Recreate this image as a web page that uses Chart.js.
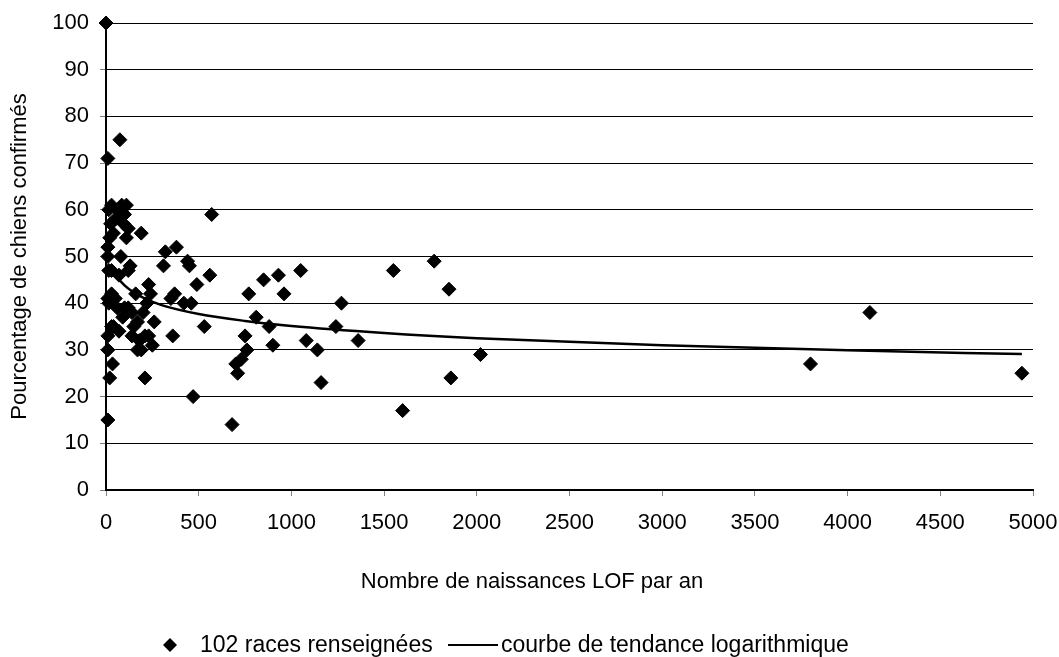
<!DOCTYPE html>
<html>
<head>
<meta charset="utf-8">
<script src="https://cdn.jsdelivr.net/npm/chart.js@4/dist/chart.umd.min.js"></script>
<style>
  html, body { margin: 0; padding: 0; background: #fff; }
  #wrap { width: 1059px; height: 657px; position: relative; }
</style>
</head>
<body>
<div id="wrap"><canvas id="lofChart"></canvas></div>
<script>
// Races : naissances LOF par an / pourcentage de chiens confirmés
const breedX = [0, 10, 75, 15, 30, 60, 85, 110, 100, 95, 120, 110, 20, 10, 10, 40, 15, 190, 80, 30,
  70, 120, 10, 30, 15, 60, 100, 40, 70, 30, 10, 120, 10, 20, 35, 10, 200, 170, 150, 180,
  190, 210, 230, 240, 220, 260, 250, 230, 210, 310, 320, 370, 380, 350, 360, 440, 450, 460, 420, 490,
  530, 560, 570, 470, 680, 700, 710, 730, 750, 760, 770, 810, 850, 880, 900, 930, 960, 1050, 1080, 1140,
  1160, 1240, 1270, 1360, 1550, 1600, 1770, 1850, 1860, 2020, 3800, 4120, 4940,
  50, 25, 130, 160, 140, 90, 50, 170, 140];
const breedY = [100, 71, 75, 60, 61, 60, 61, 61, 59, 57, 56, 54, 54, 52, 50, 55, 47, 55, 50, 47,
  46, 47, 41, 42, 40, 39, 39, 35, 34, 35, 33, 39, 30, 24, 27, 15, 38, 36, 35, 32,
  30, 33, 44, 42, 40, 36, 31, 33, 24, 48, 51, 42, 52, 41, 33, 49, 48, 40, 40, 44,
  35, 46, 59, 20, 14, 27, 25, 28, 33, 30, 42, 37, 45, 35, 31, 46, 42, 47, 32, 30,
  23, 35, 40, 32, 47, 17, 49, 43, 24, 29, 27, 38, 25,
  58, 57, 48, 42, 38, 37, 41, 30, 33];

// Courbe de tendance
const trendX = [40, 60, 100, 150, 200, 300, 500, 750, 1000, 1500, 2000, 3000, 4000, 4940];
const trendY = [47.3, 45.7, 43.8, 42.3, 41.2, 39.6, 37.7, 36.2, 35.1, 33.6, 32.5, 31.0, 29.9, 29.1];

const seriesLabel = '102 races renseignées';
const trendLabel = 'courbe de tendance logarithmique';
const xTitle = 'Nombre de naissances LOF par an';
const yTitle = 'Pourcentage de chiens confirmés';

const FONT = 'Liberation Sans, Arial, sans-serif';

// Titre de l'axe X et légende, dessinés à la main comme sur l'original
const extraText = {
  id: 'extraText',
  afterDraw(chart) {
    const ctx = chart.ctx;
    ctx.save();
    ctx.fillStyle = '#000';
    ctx.strokeStyle = '#000';
    ctx.font = '22px ' + FONT;
    ctx.textBaseline = 'alphabetic';
    ctx.textAlign = 'center';
    ctx.fillText(xTitle, 532, 588);

    // légende
    const ly = 645;
    ctx.textAlign = 'left';
    ctx.font = '23px ' + FONT;
    ctx.beginPath();
    ctx.moveTo(170, ly - 7);
    ctx.lineTo(177, ly);
    ctx.lineTo(170, ly + 7);
    ctx.lineTo(163, ly);
    ctx.closePath();
    ctx.fill();
    ctx.fillText(seriesLabel, 200, 652);
    ctx.lineWidth = 2;
    ctx.beginPath();
    ctx.moveTo(448, ly);
    ctx.lineTo(498, ly);
    ctx.stroke();
    ctx.fillText(trendLabel, 501, 652);
    ctx.restore();
  }
};

const ctx = document.getElementById('lofChart').getContext('2d');
const lofChart = new Chart(ctx, {
  type: 'scatter',
  data: {
    datasets: [{
      label: seriesLabel,
      data: breedX.map((x, i) => ({ x: x, y: breedY[i] })),
      pointStyle: 'rectRot',
      pointRadius: 7,
      pointBorderWidth: 1,
      backgroundColor: '#000',
      borderColor: '#000',
      clip: false,
      order: 2
    }, {
      label: trendLabel,
      data: trendX.map((x, i) => ({ x: x, y: trendY[i] })),
      showLine: true,
      pointRadius: 0,
      borderColor: '#000',
      borderWidth: 2.5,
      cubicInterpolationMode: 'monotone',
      order: 1
    }]
  },
  options: {
    responsive: true,
    maintainAspectRatio: false,
    animation: false,
    layout: { padding: { top: 23, right: 26, left: 0, bottom: 0 } },
    plugins: {
      legend: { display: false },
      tooltip: { enabled: false }
    },
    scales: {
      x: {
        type: 'linear',
        min: 0,
        max: 5000,
        ticks: {
          stepSize: 500, color: '#000', padding: 14, maxRotation: 0,
          font: { family: FONT, size: 22 },
          callback: (v) => String(v)
        },
        grid: { drawOnChartArea: false, drawTicks: true, tickLength: 6, color: '#808080' },
        border: { color: '#000', width: 2 },
        afterFit(scale) {
          scale.height = 657 - 490;
          scale.paddingLeft = 0;
          scale.paddingRight = 0;
        }
      },
      y: {
        min: 0,
        max: 100,
        ticks: { stepSize: 10, color: '#000', padding: 11, font: { family: FONT, size: 22 } },
        grid: { color: '#000', lineWidth: 1, tickLength: 6, tickColor: '#808080' },
        border: { color: '#000', width: 2 },
        title: { display: true, text: yTitle, color: '#000', font: { family: FONT, size: 22 }, padding: { top: 7, bottom: 0 } },
        afterFit(scale) {
          scale.width = 106;
          scale.paddingTop = 0;
          scale.paddingBottom = 0;
        }
      }
    }
  },
  plugins: [extraText]
});
</script>
</body>
</html>
